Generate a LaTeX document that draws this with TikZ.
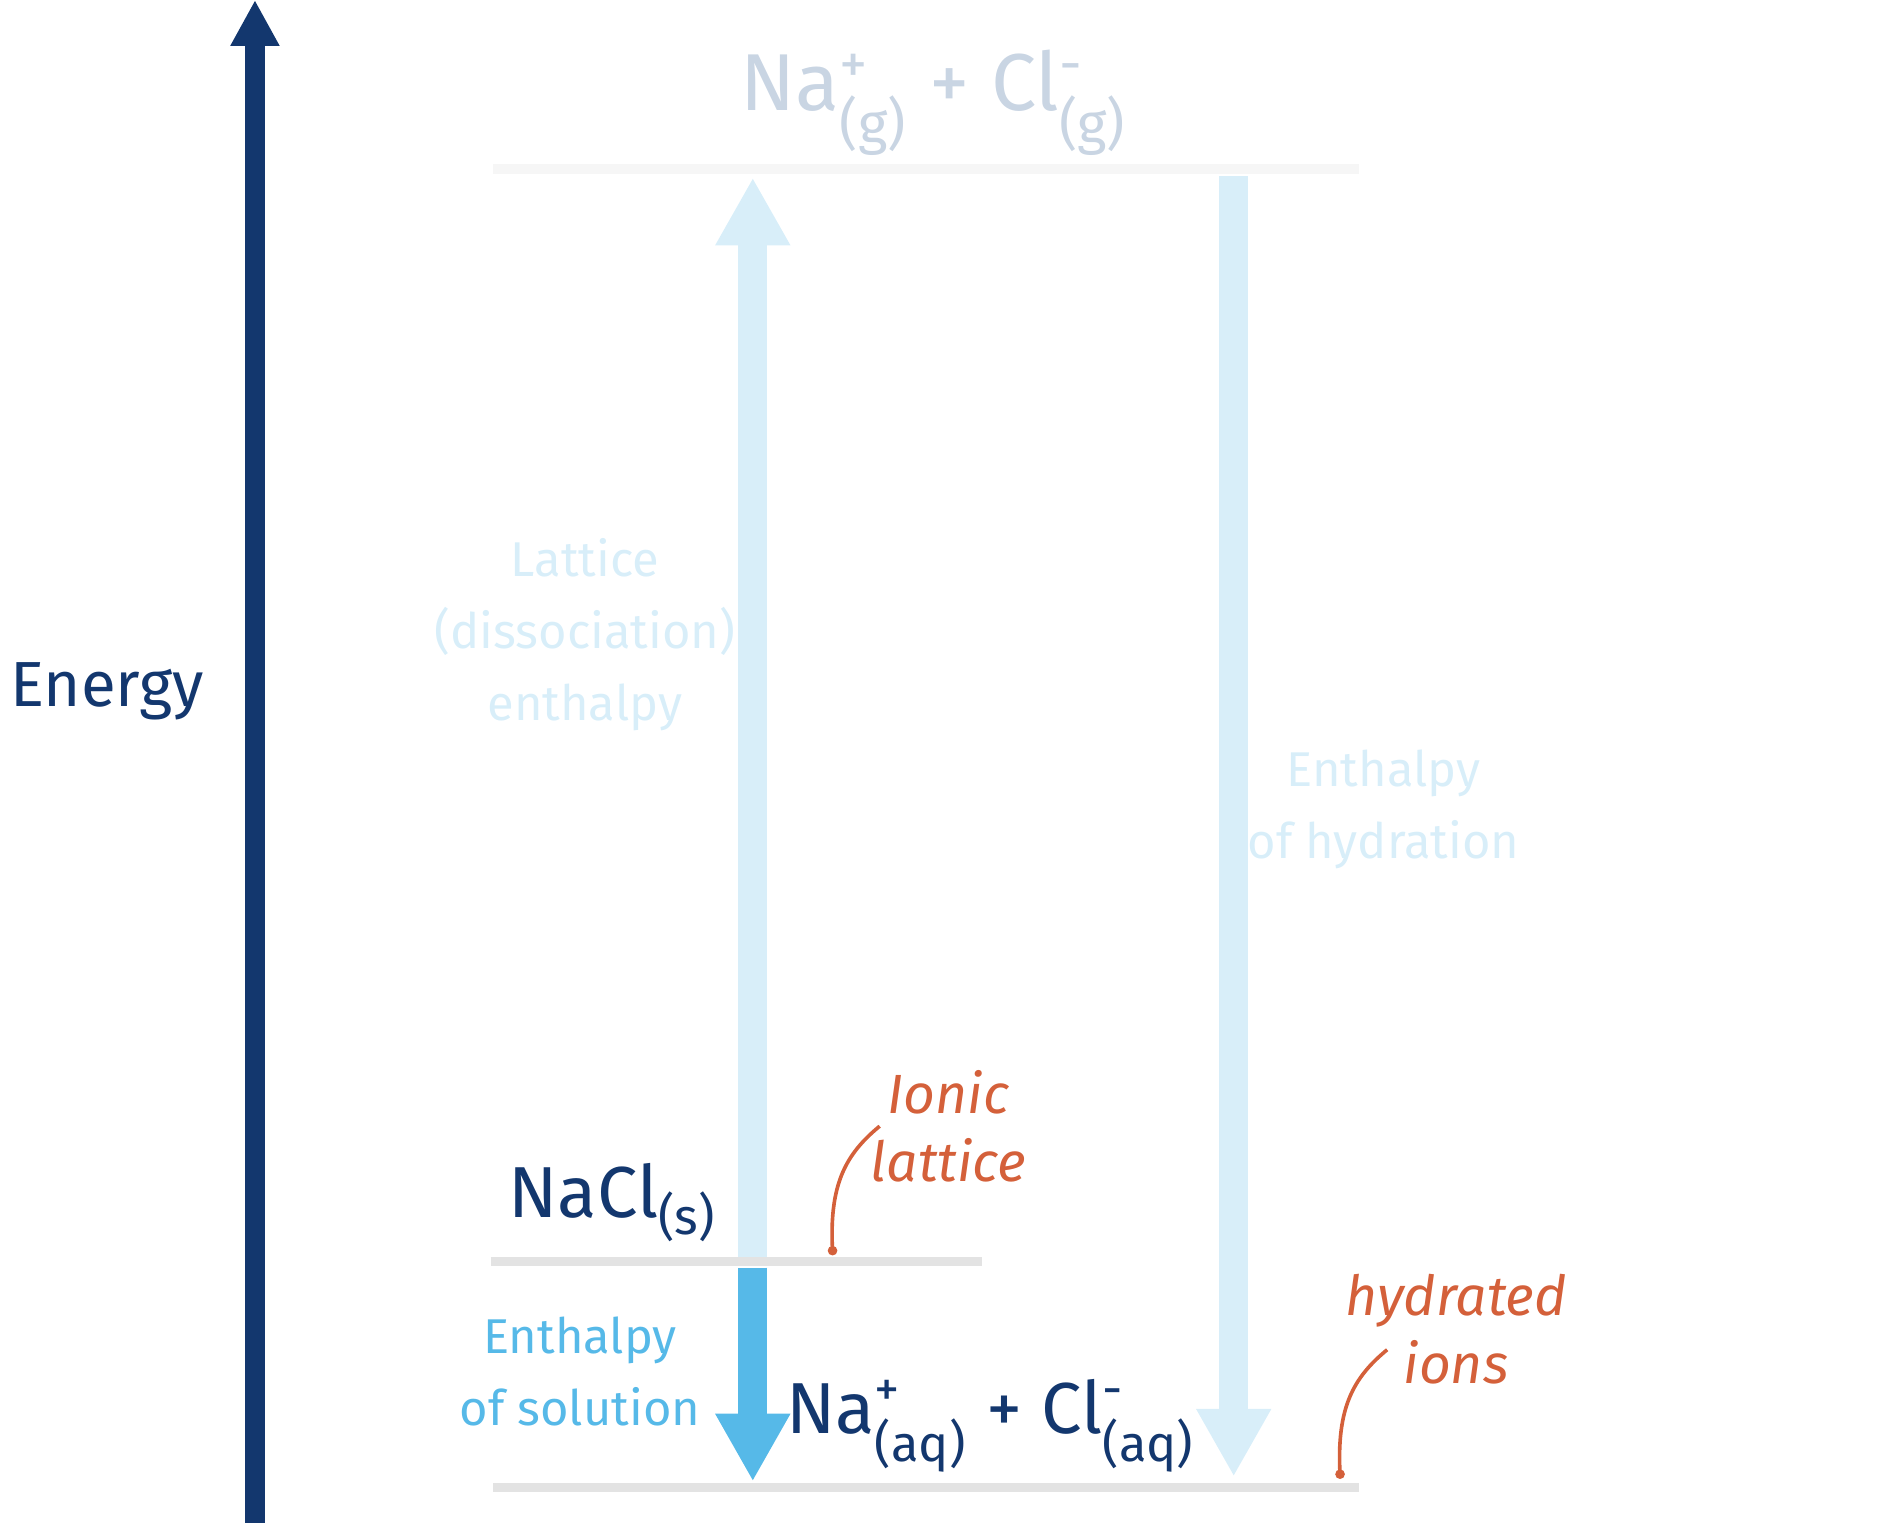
\documentclass[tikz,border=0pt]{standalone}
\usepackage{amsmath}
\usepackage{fontspec}
\setmainfont{Fira Sans}
\usetikzlibrary{arrows.meta}
\definecolor{navy}{HTML}{13376E}
\definecolor{paleblue}{HTML}{D8EEF9}
\definecolor{midblue}{HTML}{56B9E8}
\definecolor{greyblue}{HTML}{C9D5E3}
\definecolor{rust}{HTML}{D4603A}
\definecolor{levelgrey}{HTML}{E3E3E3}
\definecolor{toplevel}{HTML}{F6F6F6}
\newcommand{\ion}[2]{\ensuremath{^{\text{#1}}_{\text{#2}}}}

\begin{document}
\begin{tikzpicture}[x=0.01cm, y=-0.01cm,
  level/.style={line width=0.08cm, levelgrey},
  fat/.style={line width=0.24cm, -{Triangle[width=0.58cm,length=0.56cm]}},
  note/.style={rust, font=\itshape\fontsize{13}{16}\selectfont, align=center},
  side/.style={font=\fontsize{11.5}{17}\selectfont, align=center},
  pin/.style={rust, line width=0.03cm}]

\useasboundingbox (0,0) rectangle (1560,1260);

% axis
\coordinate (axbot) at (211,1266);
\coordinate (axtop) at (211,0);
\draw[navy, line width=0.16cm, -{Triangle[width=0.38cm,length=0.38cm]}] (axbot) -- (axtop);
\node[navy, font=\fontsize{15}{18}\selectfont, anchor=west] (energy) at (-4,572) {Energy};

% levels
\draw[level, toplevel] (408,140) -- (1125,140);
\draw[level] (406,1044) -- (813,1044);
\draw[level] (408,1231) -- (1125,1231);

% arrows
\coordinate (latbot) at (623,1040);
\coordinate (lattop) at (623,147);
\coordinate (hydtop) at (1021,146);
\coordinate (hydbot) at (1021,1222);
\coordinate (soltop) at (623,1049);
\coordinate (solbot) at (623,1226);
\draw[fat, paleblue] (latbot) -- (lattop);
\draw[fat, paleblue] (hydtop) -- (hydbot);
\draw[fat, midblue] (soltop) -- (solbot);

% species
\node[greyblue, font=\fontsize{19}{22}\selectfont] (gas) at (773,85)
  {Na\ion{+}{(g)} + Cl\ion{-}{(g)}};
\node[navy, font=\fontsize{17}{20}\selectfont] (nacl) at (507,995) {NaCl\ensuremath{_{\text{(s)}}}};
\node[navy, font=\fontsize{17}{20}\selectfont] (aq) at (820,1180)
  {Na\ion{+}{(aq)} + Cl\ion{-}{(aq)}};

% enthalpy labels
\node[side, paleblue] (lattice) at (484,525) {Lattice\\(dissociation)\\enthalpy};
\node[side, paleblue] (hydration) at (1145,670) {Enthalpy\\of hydration};
\node[side, midblue] (solution) at (480,1135) {Enthalpy\\of solution};

% notes
\node[note] (ionic) at (785,932) {Ionic\\lattice};
\node[note] (hydrated) at (1205,1100) {hydrated\\ions};
\coordinate (ionicpin) at (689,1035);
\coordinate (hydpin) at (1109,1220);
\draw[pin] (ionicpin) .. controls (686,980) and (700,955) .. (728,932);
\fill[rust] (ionicpin) circle (4);
\draw[pin] (hydpin) .. controls (1106,1165) and (1120,1140) .. (1148,1117);
\fill[rust] (hydpin) circle (4);
\end{tikzpicture}
\end{document}
